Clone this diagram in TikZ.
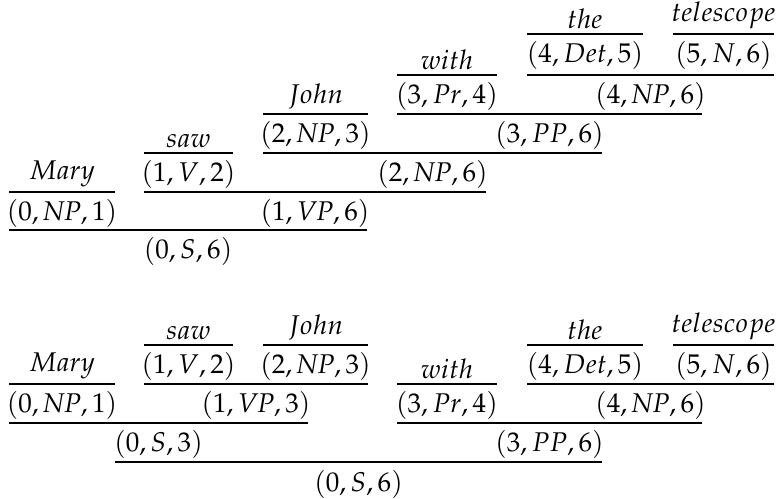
\documentclass[tikz,border=0pt]{standalone}
\usepackage{mathpazo}
\begin{document}
\begin{tikzpicture}[x=0.75pt,y=-0.75pt,
  lbl/.style={inner sep=0pt,outer sep=0pt,font=\fontsize{20.3}{24}\selectfont},
  prem/.style={lbl,anchor=base},
  word/.style={lbl,anchor=south},
  rulel/.style={line width=0.8pt}]
\useasboundingbox (0,0) rectangle (776,499);
% ---------- top tree ----------
\node[word] (tTel) at (723.5,29) {$telescope$};
\node[word] (tThe) at (585,29) {$the$};
\node[prem] (tDet) at (585,63) {$(4, Det, 5)$};
\node[prem] (tN) at (723.5,63) {$(5, N, 6)$};
\node[word] (tWith) at (447,70) {$with$};
\node[prem] (tPr) at (447,104) {$(3, Pr, 4)$};
\node[prem] (tNP46) at (650.5,104) {$(4, \mathit{NP}, 6)$};
\node[word] (tJohn) at (315.5,109) {$John$};
\node[prem] (tNP23) at (315.5,143) {$(2, \mathit{NP}, 3)$};
\node[prem] (tPP) at (549.5,143) {$(3, PP, 6)$};
\node[word] (tSaw) at (188.5,148) {$saw$};
\node[prem] (tV) at (188.5,182) {$(1, V, 2)$};
\node[prem] (tNP26) at (432.5,182) {$(2, \mathit{NP}, 6)$};
\node[word] (tMary) at (62,187) {$Mary$};
\node[prem] (tNP01) at (62,221) {$(0, \mathit{NP}, 1)$};
\node[prem] (tVP) at (315,221) {$(1, \mathit{VP}, 6)$};
\node[prem] (tS) at (188,259) {$(0, S, 6)$};
\draw[rulel] (527,34) -- (643,34);
\draw[rulel] (673,34) -- (774,34);
\draw[rulel] (397,75) -- (497,75);
\draw[rulel] (527,75) -- (774,75);
\draw[rulel] (263,114) -- (368,114);
\draw[rulel] (397,114) -- (702,114);
\draw[rulel] (144,153) -- (233,153);
\draw[rulel] (263,153) -- (602,153);
\draw[rulel] (9,192) -- (115,192);
\draw[rulel] (144,192) -- (486,192);
\draw[rulel] (9,230) -- (367,230);
% ---------- bottom tree ----------
\node[word] (bSaw) at (188.5,340) {$saw$};
\node[word] (bJohn) at (315.5,340) {$John$};
\node[word] (bThe) at (585,340) {$the$};
\node[word] (bTel) at (723.5,340) {$telescope$};
\node[prem] (bV) at (188.5,374) {$(1, V, 2)$};
\node[prem] (bNP23) at (315.5,374) {$(2, \mathit{NP}, 3)$};
\node[prem] (bDet) at (585,374) {$(4, Det, 5)$};
\node[prem] (bN) at (723.5,374) {$(5, N, 6)$};
\node[word] (bMary) at (62,379) {$Mary$};
\node[word] (bWith) at (447,379) {$with$};
\node[prem] (bNP01) at (62,413) {$(0, \mathit{NP}, 1)$};
\node[prem] (bVP) at (256,413) {$(1, \mathit{VP}, 3)$};
\node[prem] (bPr) at (447,413) {$(3, Pr, 4)$};
\node[prem] (bNP46) at (650.5,413) {$(4, \mathit{NP}, 6)$};
\node[prem] (bS3) at (158.5,452) {$(0, S, 3)$};
\node[prem] (bPP) at (549.5,452) {$(3, PP, 6)$};
\node[prem] (bS6) at (358.5,491) {$(0, S, 6)$};
\draw[rulel] (144,345) -- (233,345);
\draw[rulel] (263,345) -- (368,345);
\draw[rulel] (527,345) -- (643,345);
\draw[rulel] (673,345) -- (774,345);
\draw[rulel] (9,384) -- (115,384);
\draw[rulel] (144,384) -- (368,384);
\draw[rulel] (397,384) -- (497,384);
\draw[rulel] (527,384) -- (774,384);
\draw[rulel] (9,423) -- (308,423);
\draw[rulel] (397,423) -- (702,423);
\draw[rulel] (115,462) -- (602,462);
\end{tikzpicture}
\end{document}
